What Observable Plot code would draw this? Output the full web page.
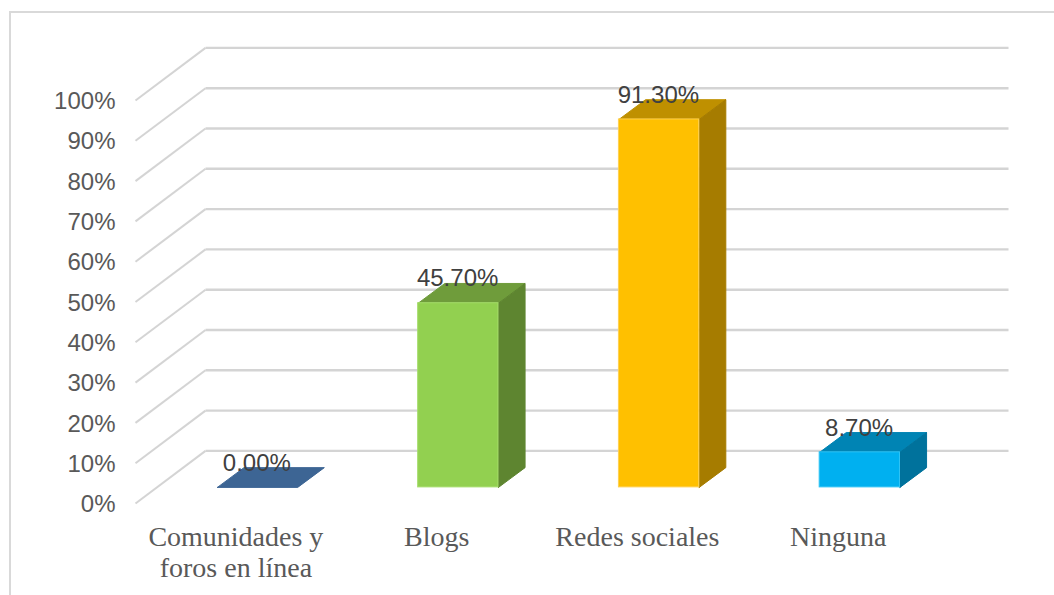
<!DOCTYPE html>
<html lang="es">
<head>
<meta charset="utf-8">
<script src="https://cdn.jsdelivr.net/npm/d3@7"></script>
<script src="https://cdn.jsdelivr.net/npm/@observablehq/plot@0.6"></script>
<style>
  html, body { margin: 0; padding: 0; background: #fff; overflow: hidden; width: 1054px; height: 595px; }
  #frame { position: absolute; left: 8.5px; top: 11px; right: 0; bottom: 0; border-left: 2px solid #d9d9d9; border-top: 2px solid #d9d9d9; }
  #chart { position: absolute; left: 0; top: 0; }
  #chart svg { display: block; background: transparent; }
</style>
</head>
<body>
<div id="frame"></div>
<div id="chart"></div>
<script>
const categories = ["Comunidades y\nforos en línea", "Blogs", "Redes sociales", "Ninguna"];
const values = [0, 45.7, 91.3, 8.7];
const valueLabels = ["0.00%", "45.70%", "91.30%", "8.70%"];
const yTicks = [0, 10, 20, 30, 40, 50, 60, 70, 80, 90, 100];
const frontColors = ["#3d6594", "#92d050", "#ffc000", "#00b0f0"];
const topColors = ["#3d6594", "#6f9c3b", "#bf9000", "#0084b4"];
const sideColors = ["#2f4f75", "#5e8530", "#a67c00", "#00729c"];
const edgeColors = ["#5b86b8", "#a5dc6a", "#ffd050", "#30c4f5"];

// Oblique projection of the depth axis, in scale units
const depthX = 0.3487, depthY = 13.05;
const barWidth = 0.4, barNear = 0.31, barFar = 0.69;

const bars = categories.map((c, i) => {
  const cx = i + 0.5 + depthX * barNear;
  return {
    i,
    x1: cx - barWidth / 2, x2: cx + barWidth / 2, cx,
    y0: 12.9 * barNear,
    v: values[i],
    dx: depthX * (barFar - barNear),
    dy: 12.9 * (barFar - barNear)
  };
});

const poly = (id, fill, stroke, pts) => pts.map(([x, y]) => ({id, fill, stroke, x, y}));
const faces = bars.flatMap(b => {
  const t = b.y0 + b.v, o = b.y0;
  const out = [];
  out.push(...poly("top" + b.i, topColors[b.i], topColors[b.i], [
    [b.x1, t], [b.x2, t], [b.x2 + b.dx, t + b.dy], [b.x1 + b.dx, t + b.dy], [b.x1, t]
  ]));
  if (b.v > 0) {
    out.push(...poly("side" + b.i, sideColors[b.i], sideColors[b.i], [
      [b.x2, o], [b.x2 + b.dx, o + b.dy], [b.x2 + b.dx, t + b.dy], [b.x2, t], [b.x2, o]
    ]));
  }
  return out;
});

const chart = Plot.plot({
  width: 1054,
  height: 595,
  marginLeft: 135,
  marginRight: 116,
  marginTop: 100,
  marginBottom: 92,
  style: {background: "transparent", overflow: "visible"},
  x: {domain: [0, 4], axis: null},
  y: {domain: [0, 100], axis: null},
  color: {type: "identity"},
  marks: [
    // side wall rungs and back wall gridlines
    Plot.link(yTicks, {x1: () => 0, y1: d => d, x2: () => depthX, y2: d => d + depthY, stroke: "#d4d4d4", strokeWidth: 2}),
    Plot.link(yTicks, {x1: () => depthX, y1: d => d + depthY, x2: () => 4 + depthX, y2: d => d + depthY, stroke: "#d4d4d4", strokeWidth: 2.4}),
    // y axis
    Plot.axisY({
      ticks: yTicks,
      tickSize: 0,
      tickPadding: 20,
      tickFormat: d => d + "%",
      label: null,
      fontSize: 24,
      fontFamily: "Liberation Sans",
      color: "#595959",
      dy: 1
    }),
    // bar faces
    Plot.line(faces, {x: "x", y: "y", z: "id", fill: "fill", stroke: "stroke", strokeWidth: 1, curve: "linear"}),
    Plot.rect(bars.filter(b => b.v > 0), {
      x1: "x1", x2: "x2", y1: "y0", y2: b => b.y0 + b.v,
      fill: b => frontColors[b.i], stroke: b => edgeColors[b.i], strokeWidth: 1
    }),
    // category labels
    Plot.text(categories, {
      x: (d, i) => i + 0.5,
      y: () => 0,
      text: d => d,
      dy: 20,
      lineAnchor: "top",
      lineHeight: 1.11,
      fontSize: 28,
      fontFamily: "Liberation Serif",
      fill: "#595959"
    }),
    // value labels
    Plot.text(bars, {
      x: "cx",
      y: b => b.y0 + b.v,
      text: b => valueLabels[b.i],
      dx: -0.7,
      dy: -24.5,
      fontSize: 24,
      fontFamily: "Liberation Sans",
      fill: "#404040"
    })
  ]
});
document.getElementById("chart").appendChild(chart);
</script>
</body>
</html>
